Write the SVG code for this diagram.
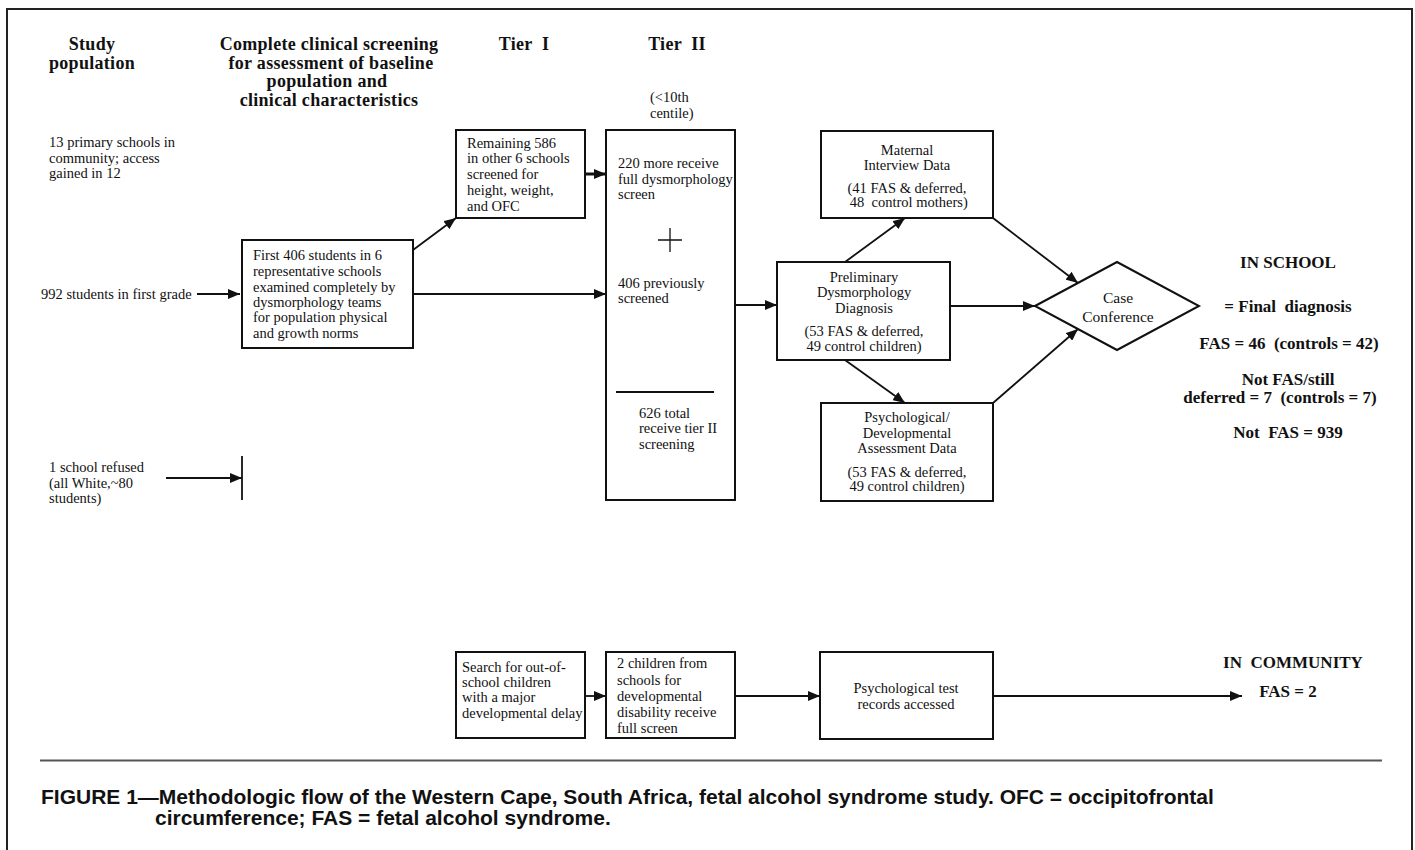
<svg xmlns="http://www.w3.org/2000/svg" width="1415" height="850" viewBox="0 0 1415 850">
<style>
.bg{fill:#ffffff}
.frame{fill:none;stroke:#222;stroke-width:2}
.sep{stroke:#555;stroke-width:2}
.box{fill:#ffffff;stroke:#111;stroke-width:2}
.ln{fill:none;stroke:#111;stroke-width:1.8}
.thick{stroke-width:3}
.thin{fill:none;stroke:#111;stroke-width:1.3}
.t{font-family:"Liberation Serif","Times New Roman",serif;font-size:14.5px;fill:#111;white-space:pre}
.c{text-anchor:middle}
.h{font-weight:bold;font-size:18px;letter-spacing:0.3px}
.r{font-weight:bold;font-size:17px;text-anchor:middle}
.cap{font-family:"Liberation Sans",Arial,sans-serif;font-weight:bold;font-size:21px;fill:#111;white-space:pre}
</style>
<defs>
<marker id="ah" markerUnits="userSpaceOnUse" markerWidth="12" markerHeight="10" refX="12" refY="5" orient="auto">
<path d="M0,0 L12,5 L0,10 z" fill="#111"/>
</marker>
</defs>
<rect class="bg" x="0" y="0" width="1415" height="850"/>
<path class="frame" d="M7,860 V9 H1412 V860"/>

<g id="headers">
<text class="t h c" x="92" y="50">Study</text>
<text class="t h c" x="92" y="68.5">population</text>
<text class="t h c" x="329" y="50">Complete clinical screening</text>
<text class="t h c" x="331" y="68.5">for assessment of baseline</text>
<text class="t h c" x="327" y="87">population and</text>
<text class="t h c" x="329" y="105.5">clinical characteristics</text>
<text class="t h c" x="524" y="50">Tier  I</text>
<text class="t h c" x="677" y="50">Tier  II</text>
</g>

<g id="n-primary">
<text class="t" x="49" y="147">13 primary schools in</text>
<text class="t" x="49" y="163">community; access</text>
<text class="t" x="49" y="178">gained in 12</text>
</g>

<g id="n-first-grade">
<text class="t" x="41" y="299">992 students in first grade</text>
</g>

<g id="n-refused">
<text class="t" x="49" y="472">1 school refused</text>
<text class="t" x="49" y="488">(all White,~80</text>
<text class="t" x="49" y="503">students)</text>
</g>

<g id="n-first406">
<rect class="box" x="242" y="240" width="171" height="108"/>
<text class="t" x="253" y="260">First 406 students in 6</text>
<text class="t" x="253" y="276">representative schools</text>
<text class="t" x="253" y="292">examined completely by</text>
<text class="t" x="253" y="307">dysmorphology teams</text>
<text class="t" x="253" y="322">for population physical</text>
<text class="t" x="253" y="338">and growth norms</text>
</g>

<g id="n-tier1">
<rect class="box" x="456" y="130" width="129" height="88"/>
<text class="t" x="467" y="148">Remaining 586</text>
<text class="t" x="467" y="163">in other 6 schools</text>
<text class="t" x="467" y="179">screened for</text>
<text class="t" x="467" y="195">height, weight,</text>
<text class="t" x="467" y="211">and OFC</text>
</g>

<g id="n-centile">
<text class="t" x="650" y="102">(&lt;10th</text>
<text class="t" x="650" y="118">centile)</text>
</g>

<g id="n-tier2">
<rect class="box" x="606" y="130" width="129" height="370"/>
<text class="t" x="618" y="168">220 more receive</text>
<text class="t" x="618" y="184">full dysmorphology</text>
<text class="t" x="618" y="199">screen</text>
<path class="thin" d="M658,240 H682 M670,228 V252"/>
<text class="t" x="618" y="288">406 previously</text>
<text class="t" x="618" y="303">screened</text>
<path class="ln" d="M616,392 H714"/>
<text class="t" x="639" y="418">626 total</text>
<text class="t" x="639" y="433">receive tier II</text>
<text class="t" x="639" y="449">screening</text>
</g>

<g id="n-maternal">
<rect class="box" x="821" y="131" width="172" height="87"/>
<text class="t c" x="907" y="155">Maternal</text>
<text class="t c" x="907" y="170">Interview Data</text>
<text class="t c" x="907" y="193">(41 FAS &amp; deferred,</text>
<text class="t c" x="907" y="207"> 48  control mothers)</text>
</g>

<g id="n-prelim">
<rect class="box" x="777" y="262" width="173" height="98"/>
<text class="t c" x="864" y="282">Preliminary</text>
<text class="t c" x="864" y="297">Dysmorphology</text>
<text class="t c" x="864" y="313">Diagnosis</text>
<text class="t c" x="864" y="336">(53 FAS &amp; deferred,</text>
<text class="t c" x="864" y="351">49 control children)</text>
</g>

<g id="n-psych">
<rect class="box" x="821" y="403" width="172" height="98"/>
<text class="t c" x="907" y="422">Psychological/</text>
<text class="t c" x="907" y="438">Developmental</text>
<text class="t c" x="907" y="453">Assessment Data</text>
<text class="t c" x="907" y="477">(53 FAS &amp; deferred,</text>
<text class="t c" x="907" y="491">49 control children)</text>
</g>

<g id="n-case">
<polygon class="box" points="1035,306 1117,262 1199,306 1117,350"/>
<text class="t c" x="1118" y="303" style="font-size:15.5px">Case</text>
<text class="t c" x="1118" y="322" style="font-size:15.5px">Conference</text>
</g>

<g id="n-results">
<text class="t r" x="1288" y="268">IN SCHOOL</text>
<text class="t r" x="1288" y="312">= Final  diagnosis</text>
<text class="t r" x="1289" y="349">FAS = 46  (controls = 42)</text>
<text class="t r" x="1288" y="385">Not FAS/still</text>
<text class="t r" x="1280" y="403">deferred = 7  (controls = 7)</text>
<text class="t r" x="1288" y="438">Not  FAS = 939</text>
</g>

<g id="n-search">
<rect class="box" x="456" y="652" width="129" height="86"/>
<text class="t" x="462" y="672">Search for out-of-</text>
<text class="t" x="462" y="687">school children</text>
<text class="t" x="462" y="702">with a major</text>
<text class="t" x="462" y="718">developmental delay</text>
</g>

<g id="n-two-children">
<rect class="box" x="606" y="652" width="129" height="86"/>
<text class="t" x="617" y="668">2 children from</text>
<text class="t" x="617" y="685">schools for</text>
<text class="t" x="617" y="701">developmental</text>
<text class="t" x="617" y="717">disability receive</text>
<text class="t" x="617" y="733">full screen</text>
</g>

<g id="n-psych-test">
<rect class="box" x="820" y="652" width="173" height="87"/>
<text class="t c" x="906" y="693">Psychological test</text>
<text class="t c" x="906" y="709">records accessed</text>
</g>

<g id="n-community">
<text class="t r" x="1293" y="668">IN  COMMUNITY</text>
<text class="t r" x="1288" y="697">FAS = 2</text>
</g>

<g id="connectors">
<path class="ln" d="M197,294 H240" marker-end="url(#ah)"/>
<path class="ln" d="M413,250 L456,218" marker-end="url(#ah)"/>
<path class="ln" d="M413,294 H606" marker-end="url(#ah)"/>
<path class="ln thick" d="M585,174 H606" marker-end="url(#ah)"/>
<path class="ln" d="M166,478 H242" marker-end="url(#ah)"/>
<path class="ln" d="M242,456 V500"/>
<path class="ln" d="M735,305 H777" marker-end="url(#ah)"/>
<path class="ln" d="M845,262 L905,218" marker-end="url(#ah)"/>
<path class="ln" d="M845,360 L905,403" marker-end="url(#ah)"/>
<path class="ln" d="M950,306 H1035" marker-end="url(#ah)"/>
<path class="ln" d="M993,218 L1078,283" marker-end="url(#ah)"/>
<path class="ln" d="M993,403 L1078,329" marker-end="url(#ah)"/>
<path class="ln" d="M585,696 H606" marker-end="url(#ah)"/>
<path class="ln" d="M735,696 H820" marker-end="url(#ah)"/>
<path class="ln" d="M993,696 H1242" marker-end="url(#ah)"/>
</g>

<line class="sep" x1="40" y1="760.5" x2="1382" y2="760.5"/>
<g id="caption">
<text class="cap" x="41" y="804">FIGURE 1—Methodologic flow of the Western Cape, South Africa, fetal alcohol syndrome study. OFC = occipitofrontal</text>
<text class="cap" x="155" y="825">circumference; FAS = fetal alcohol syndrome.</text>
</g>
</svg>
